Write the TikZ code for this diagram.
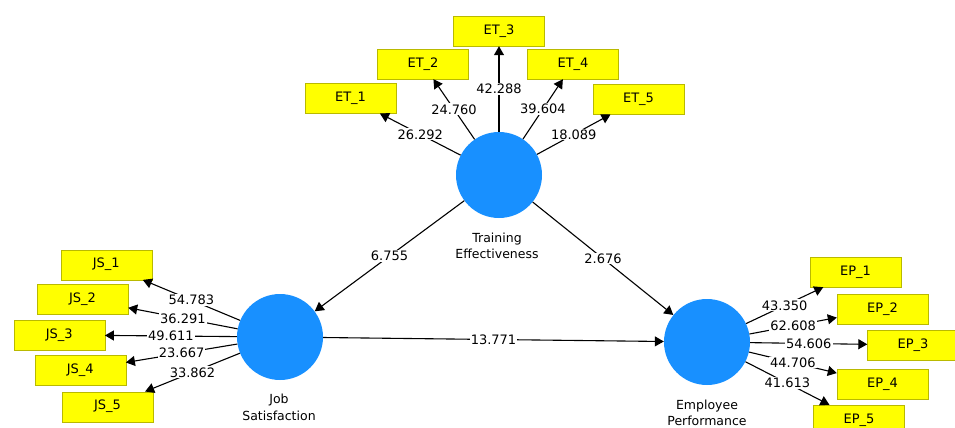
\documentclass[tikz,border=0pt]{standalone}
\usepackage{fontspec}
\setmainfont{DejaVu Sans}
\usetikzlibrary{arrows.meta}
\definecolor{dodgerblue}{RGB}{24,144,255}
\definecolor{lemonyellow}{RGB}{255,255,0}
\definecolor{darkolive}{RGB}{185,185,0}
\tikzset{
  ind/.style={draw=darkolive, fill=lemonyellow, minimum width=91pt, minimum height=30pt, inner sep=0pt, font=\fontsize{13}{15}\selectfont},
  lv/.style={circle, fill=dodgerblue, minimum size=86pt, inner sep=0pt},
  lvname/.style={align=center, font=\fontsize{12.5}{16.5}\selectfont},
  wt/.style={midway, fill=white, inner sep=1pt, font=\fontsize{13}{15}\selectfont},
  load/.style={-{Triangle[length=9pt,width=10pt]}, line width=1.1pt}
}

\begin{document}
\begin{tikzpicture}[x=1pt,y=-1pt]
\useasboundingbox (0,0) rectangle (955,428);
\clip (0,0) rectangle (955,428);
\node[lv] (te) at (499,175) {};
\node[lv] (js) at (280,337) {};
\node[lv] (ep) at (707,342) {};
\node[lvname] (tename) at (497,246) {Training\\Effectiveness};
\node[lvname] (jsname) at (279,407.5) {Job\\Satisfaction};
\node[lvname] (epname) at (707,413) {Employee\\Performance};
% indicators
\node[ind] (et1) at (350.5,98.3) {ET\_1};
\node[ind] (et2) at (423,64) {ET\_2};
\node[ind] (et3) at (499,31) {ET\_3};
\node[ind] (et4) at (573,64) {ET\_4};
\node[ind] (et5) at (638.5,99.3) {ET\_5};
\node[ind] (js1) at (106.3,264.7) {JS\_1};
\node[ind] (js2) at (82.5,299) {JS\_2};
\node[ind] (js3) at (59.2,335) {JS\_3};
\node[ind] (js4) at (80.2,370) {JS\_4};
\node[ind] (js5) at (107.5,406.7) {JS\_5};
\node[ind] (ep1) at (855.5,272) {EP\_1};
\node[ind] (ep2) at (882.5,309) {EP\_2};
\node[ind] (ep3) at (913,345) {EP\_3};
\node[ind] (ep4) at (882.5,384) {EP\_4};
\node[ind] (ep5) at (859,420) {EP\_5};
\draw[load] (te)--(et1) node[wt] {26.292};
\draw[load] (te)--(et2) node[wt] {24.760};
\draw[load] (te)--(et3) node[wt] {42.288};
\draw[load] (te)--(et4) node[wt] {39.604};
\draw[load] (te)--(et5) node[wt] {18.089};
\draw[load] (js)--(js1) node[wt] {54.783};
\draw[load] (js)--(js2) node[wt] {36.291};
\draw[load] (js)--(js3) node[wt] {49.611};
\draw[load] (js)--(js4) node[wt] {23.667};
\draw[load] (js)--(js5) node[wt] {33.862};
\draw[load] (ep)--(ep1) node[wt] {43.350};
\draw[load] (ep)--(ep2) node[wt] {62.608};
\draw[load] (ep)--(ep3) node[wt] {54.606};
\draw[load] (ep)--(ep4) node[wt] {44.706};
\draw[load] (ep)--(ep5) node[wt] {41.613};
\draw[load] (te)--(js) node[wt] {6.755};
\draw[load] (te)--(ep) node[wt] {2.676};
\draw[load] (js)--(ep) node[wt] {13.771};
\end{tikzpicture}
\end{document}
